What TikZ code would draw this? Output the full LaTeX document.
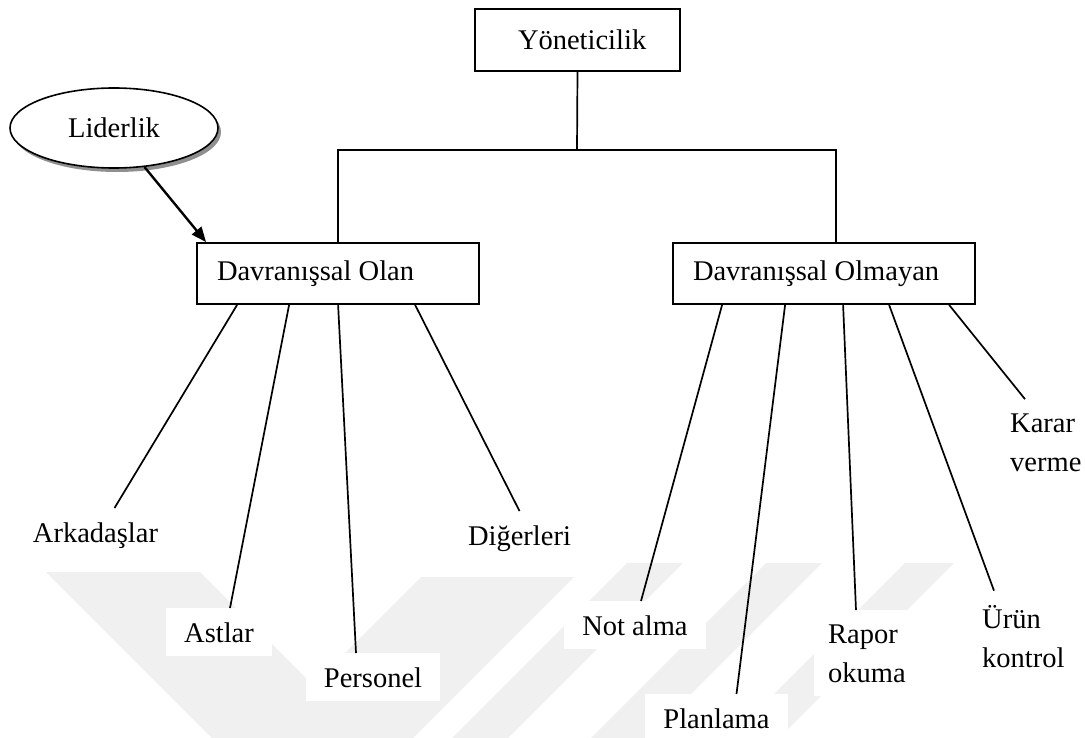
\documentclass[tikz,border=0pt]{standalone}
\usepackage{fontspec}
\setmainfont{Liberation Serif}
\usetikzlibrary{shapes.geometric,arrows.meta,shadows}
\begin{document}
\begin{tikzpicture}[x=1pt,y=-1pt,
  every node/.style={font=\fontsize{28.5}{39}\selectfont},
  box/.style={draw, line width=1.8pt, fill=white, rectangle, inner sep=0pt, minimum height=61pt, anchor=center},
  lbl/.style={fill=white, inner xsep=18pt, inner ysep=14pt, anchor=base},
  mlbl/.style={fill=white, inner xsep=14pt, inner ysep=14pt, align=left, anchor=base west},
  wm/.style={fill=black!6, draw=none},
  conn/.style={line width=1.7pt},
]
\useasboundingbox (0,0) rectangle (1085,738);
% watermark
\fill[wm] (46,572) -- (200,572) -- (366,738) -- (212,738) -- cycle;
\fill[wm] (421,577) -- (574,577) -- (413,738) -- (260,738) -- cycle;
\fill[wm] (627,563) -- (683,563) -- (508,738) -- (452,738) -- cycle;
\fill[wm] (766,563) -- (822,563) -- (647,738) -- (591,738) -- cycle;
\fill[wm] (905,563) -- (954,563) -- (779,738) -- (730,738) -- cycle;

% boxes
\node[box, minimum width=205pt, minimum height=62pt] (yon) at (577.5,40) {\makebox[205pt][l]{\hspace{43pt}Yöneticilik}};
\node[box, minimum width=282pt] (olan) at (338,273.5) {\makebox[282pt][l]{\hspace{20pt}Davranışsal Olan}};
\node[box, minimum width=302pt] (olmayan) at (824,273.5) {\makebox[302pt][l]{\hspace{20pt}Davranışsal Olmayan}};
\node[ellipse, draw, line width=1.6pt, fill=white, minimum width=208pt, minimum height=80pt, inner sep=0pt,
  drop shadow={shadow xshift=3pt, shadow yshift=-4pt, fill=black!55, opacity=0.8}] (lid) at (114,128) {Liderlik};

% labels
\node[lbl] (ark) at (95.5,542) {Arkadaşlar};
\node[lbl] (ast) at (219,642) {Astlar};
\node[lbl] (per) at (373,687) {Personel};
\node[lbl] (dig) at (519.5,545) {Diğerleri};
\node[lbl] (nota) at (635,635) {Not alma};
\node[lbl] (pla) at (716.5,728) {Planlama};
\node[mlbl] (rap) at (814,682) {Rapor\\okuma};
\node[mlbl] (uru) at (968,667) {Ürün\\kontrol};
\node[mlbl] (kar) at (996,471) {Karar\\verme};

% connectors
\draw[line width=2.4pt, -{Triangle[length=15pt,width=12pt]}] (lid.-52) -- ([xshift=10pt]olan.north west);
\coordinate (bar) at (577,150);
\draw[conn] (yon.south) -- (bar);
\draw[conn] (olan.north) |- (bar) -| ([xshift=12pt]olmayan.north);

\draw[conn] ([xshift=41pt]olan.south west) -- ([xshift=19pt]ark.north);
\draw[conn] ([xshift=93pt]olan.south west) -- ([xshift=11pt]ast.north);
\draw[conn] ([xshift=142pt]olan.south west) -- ([xshift=-17pt]per.north);
\draw[conn] ([xshift=219pt]olan.south west) -- (dig.north);

\draw[conn] ([xshift=50pt]olmayan.south west) -- ([xshift=6pt]nota.north);
\draw[conn] ([xshift=113pt]olmayan.south west) -- ([xshift=20pt]pla.north);
\draw[conn] ([xshift=171pt]olmayan.south west) -- ([xshift=42pt]rap.north west);
\draw[conn] ([xshift=217pt]olmayan.south west) -- ([xshift=26pt]uru.north west);
\draw[conn] ([xshift=277pt]olmayan.south west) -- ([xshift=29pt]kar.north west);
\end{tikzpicture}
\end{document}
